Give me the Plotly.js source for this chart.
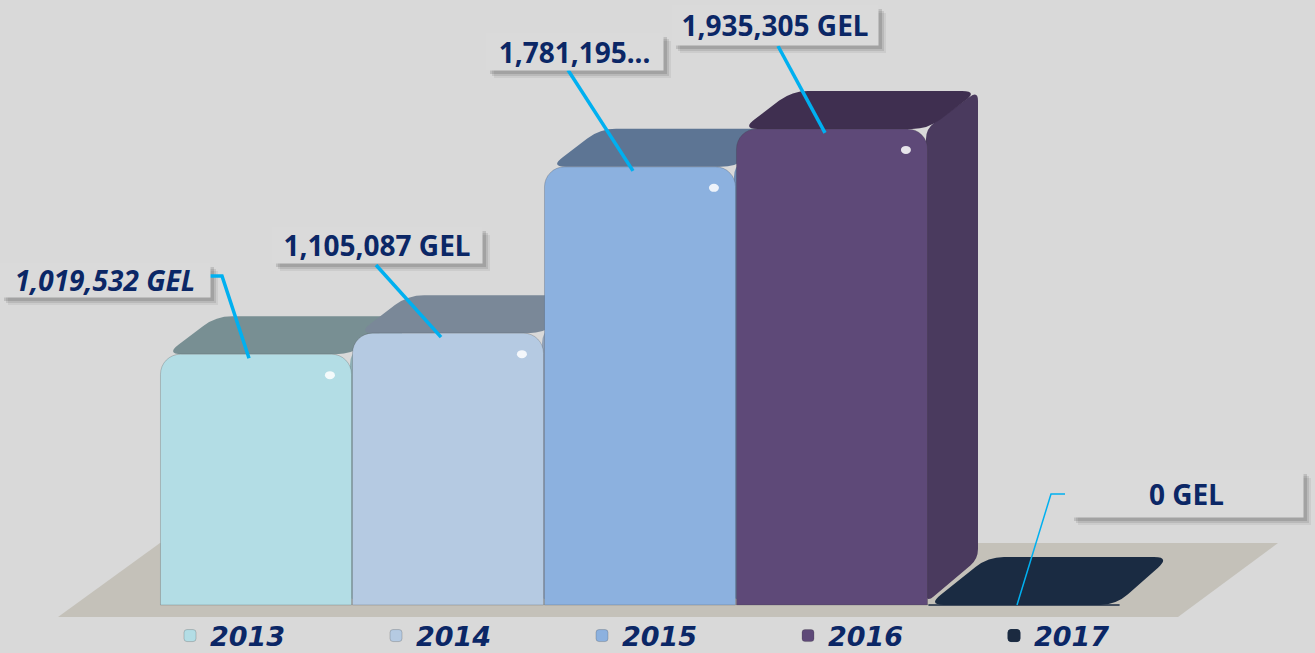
<!DOCTYPE html>
<html>
<head>
<meta charset="utf-8">
<script src="https://cdn.plot.ly/plotly-3.0.1.min.js"></script>
<style>html,body{margin:0;padding:0;background:#d9d9d9;}#chart{width:1315px;height:653px;}</style>
</head>
<body>
<div id="chart"></div>
<script>
// ---- data ----
const categories = ['2013', '2014', '2015', '2016', '2017'];
const values = [1019532, 1105087, 1781195, 1935305, 0];
const labelTexts = ['1,019,532 GEL', '1,105,087 GEL', '1,781,195...', '1,935,305 GEL', '0 GEL'];
const frontColors = ['#b3dde5', '#b5cae2', '#8cb1df', '#5e4978', '#1b2a40'];
const topColors = ['#788f93', '#7a8898', '#5d7594', '#3f2f50', '#1a2b42'];
const sideColors = ['#8fb0b5', '#93a3b8', '#6f8db5', '#4a3a5e', '#1a2b42'];

// ---- geometry (layout / style) ----
const W = 1315, H = 653;
const X0PX = 256, XSTEP = 192;        // pixel centre of first bar, pixels per category
const BASEPX = 605;                   // pixel row of the value 0
const PXPERUNIT = 246 / 1e6;          // pixels per GEL
const xr = [-X0PX / XSTEP, (W - X0PX) / XSTEP];
const yr = [-(H - BASEPX) / PXPERUNIT, BASEPX / PXPERUNIT];
const DXPX = 50, DYPX = 38;           // depth of the 3D extrusion in pixels

const x2px = x => (x - xr[0]) * XSTEP;
const y2px = y => BASEPX - y * PXPERUNIT;
const px2x = p => xr[0] + p / XSTEP;
const py2y = p => (BASEPX - p) / PXPERUNIT;

// rounded polygon, points in pixels -> path in data coords
function roundedPath(pts, r) {
  let d = '';
  const n = pts.length;
  for (let k = 0; k < n; k++) {
    const P = pts[k], A = pts[(k - 1 + n) % n], B = pts[(k + 1) % n];
    const la = Math.hypot(A[0] - P[0], A[1] - P[1]), lb = Math.hypot(B[0] - P[0], B[1] - P[1]);
    const ra = Math.min(r, la / 2), rb = Math.min(r, lb / 2);
    const s = [P[0] + (A[0] - P[0]) * ra / la, P[1] + (A[1] - P[1]) * ra / la];
    const e = [P[0] + (B[0] - P[0]) * rb / lb, P[1] + (B[1] - P[1]) * rb / lb];
    d += (k === 0 ? 'M' : 'L') + px2x(s[0]) + ',' + py2y(s[1]);
    d += 'Q' + px2x(P[0]) + ',' + py2y(P[1]) + ' ' + px2x(e[0]) + ',' + py2y(e[1]);
  }
  return d + 'Z';
}

const shapes = [];
// floor
shapes.push({
  type: 'path', xref: 'x', yref: 'y', layer: 'below',
  path: 'M' + px2x(58) + ',' + py2y(617) + 'L' + px2x(1178) + ',' + py2y(617) +
        'L' + px2x(1278) + ',' + py2y(543) + 'L' + px2x(160) + ',' + py2y(543) + 'Z',
  fillcolor: '#c4c1b9', line: {width: 0}
});

// side + top faces computed from the data
categories.forEach((c, i) => {
  const v = values[i];
  const l = x2px(i - 0.5), r = x2px(i + 0.5);
  const t = y2px(v), b = y2px(0);
  if (v > 0) {
    shapes.push({
      type: 'path', xref: 'x', yref: 'y', layer: 'below',
      path: roundedPath([[r - 2, b - 2], [r - 2, t], [r + DXPX, t - DYPX], [r + DXPX, b - DYPX - 8]], 10),
      fillcolor: sideColors[i], line: {width: 0}
    });
    shapes.push({
      type: 'path', xref: 'x', yref: 'y', layer: 'below',
      path: roundedPath([[l + 6, t], [r, t], [r + DXPX, t - DYPX], [l + DXPX + 6, t - DYPX]], 16),
      fillcolor: topColors[i], line: {width: 0}
    });
  } else {
    // a zero value is drawn as a flat tile on the floor
    shapes.push({
      type: 'path', xref: 'x', yref: 'y', layer: 'below',
      path: roundedPath([[l, t], [r - 4, t], [r + 50, t - 48], [l + 60, t - 48]], 16),
      fillcolor: topColors[i], line: {width: 0}
    });
  }
});

// label boxes (pixel boxes: left, top, right, bottom)
const boxes = [[0, 263, 210, 297], [272, 227, 482, 263], [486, 33, 663, 70], [672, 5, 878, 45], [1070, 470, 1303, 517]];
const starts = [[[210, 276], [222, 276]], [[376, 265]], [[568, 70]], [[778, 46]], [[1065, 494], [1051, 494]]];
const annotations = [];
boxes.forEach((bx, i) => {
  // soft shadow
  [[8, 0.06], [6, 0.09], [4, 0.12]].forEach(([o, a]) => {
    shapes.push({
      type: 'rect', xref: 'paper', yref: 'paper', layer: 'above',
      x0: (bx[0] + o) / W, x1: (bx[2] + o) / W, y0: 1 - (bx[3] + o) / H, y1: 1 - (bx[1] + o) / H,
      fillcolor: 'rgba(0,0,0,' + a + ')', line: {width: 0}
    });
  });
  annotations.push({
    xref: 'paper', yref: 'paper', x: (bx[0] + bx[2]) / 2 / W, y: 1 - (bx[1] + bx[3]) / 2 / H,
    xanchor: 'center', yanchor: 'middle', showarrow: false,
    width: bx[2] - bx[0], height: bx[3] - bx[1], borderpad: 0,
    bgcolor: '#dadada', align: 'center',
    text: i === 0 ? '<i>' + labelTexts[i] + '</i>' : labelTexts[i],
    font: {family: 'Noto Sans', size: 28, color: '#0b2766', weight: 700}
  });
});

// leader lines to the bar tops
categories.forEach((c, i) => {
  const v = values[i];
  const ex = i - 7 / XSTEP, ey = v > 0 ? v - 4 / PXPERUNIT : 0;
  let d = '';
  starts[i].forEach((p, k) => { d += (k === 0 ? 'M' : 'L') + px2x(p[0]) + ',' + py2y(p[1]); });
  d += 'L' + ex + ',' + ey;
  shapes.push({
    type: 'path', xref: 'x', yref: 'y', layer: 'above', path: d,
    line: {color: '#00b0f0', width: v > 0 ? 3.5 : 1.5}
  });
  // small glossy highlight
  if (v > 0) {
    const hx = x2px(i + 0.385), hy = y2px(v) + 22;
    shapes.push({
      type: 'circle', xref: 'x', yref: 'y', layer: 'above',
      x0: px2x(hx - 5), x1: px2x(hx + 5), y0: py2y(hy + 3), y1: py2y(hy - 5),
      fillcolor: 'rgba(255,255,255,0.85)', line: {width: 0}
    });
  }
});

// bar fronts (one trace per year so the legend shows each year)
const traces = categories.map((c, i) => ({
  type: 'bar', name: c, x: [i], y: [values[i]], width: 0.995,
  marker: {color: frontColors[i], cornerradius: 20, line: {color: i === 4 ? topColors[i] : 'rgba(60,60,60,0.3)', width: i === 4 ? 1 : 0.8}},
  hoverinfo: 'skip'
}));

const layout = {
  width: W, height: H,
  margin: {l: 0, r: 0, t: 0, b: 0, autoexpand: false},
  paper_bgcolor: '#d9d9d9', plot_bgcolor: '#d9d9d9',
  barmode: 'overlay',
  xaxis: {range: xr, visible: false, fixedrange: true},
  yaxis: {range: yr, visible: false, fixedrange: true},
  showlegend: true,
  legend: {
    orientation: 'h', x: 170 / W, xanchor: 'left', y: 1 - 636 / H, yanchor: 'middle',
    bgcolor: 'rgba(0,0,0,0)', entrywidth: 161, entrywidthmode: 'pixels',
    font: {family: 'DejaVu Sans', size: 27, color: '#0b2766', weight: 700, style: 'italic'},
    traceorder: 'normal'
  },
  shapes: shapes,
  annotations: annotations
};

Plotly.newPlot('chart', traces, layout, {displayModeBar: false, staticPlot: true});
</script>
</body>
</html>
